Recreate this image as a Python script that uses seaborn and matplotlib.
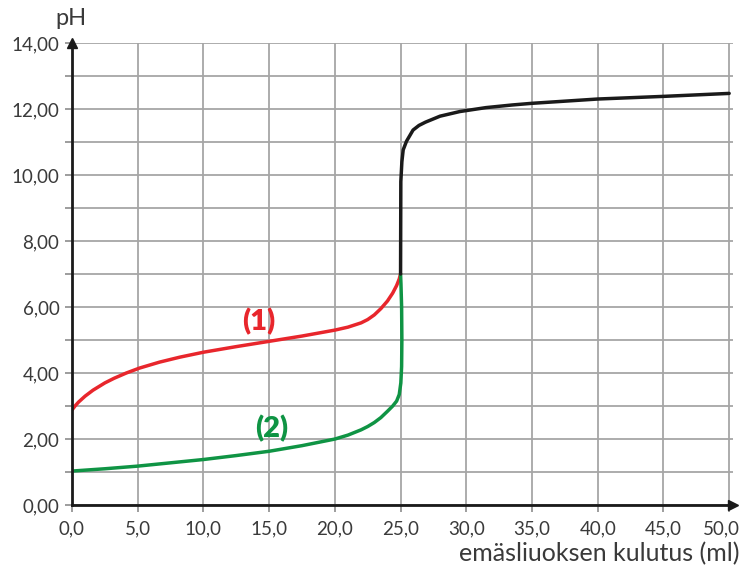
import matplotlib
matplotlib.use("Agg")
import matplotlib.pyplot as plt
import matplotlib.transforms as mtransforms
import numpy as np
import pandas as pd
import seaborn as sns

# values
red_x = [0, 0.23, 0.5, 1, 1.6, 2.5, 3.2, 4.13, 5.14, 6.66, 8.2, 10, 12.5, 15, 17.5, 20,
         21, 22, 22.5, 23, 23.5, 24, 24.4, 24.7, 24.9, 25.0]
red_y = [2.88, 3.0, 3.12, 3.3, 3.48, 3.7, 3.84, 4.0, 4.15, 4.33, 4.48, 4.63, 4.8, 4.96,
         5.12, 5.3, 5.39, 5.52, 5.62, 5.76, 5.95, 6.18, 6.42, 6.65, 6.85, 7.0]

green_x = [0, 2.5, 5, 7.5, 10, 12.5, 15, 17.5, 20, 21, 22, 22.5, 23, 23.5, 24, 24.4,
           24.7, 24.9, 25.02, 25.08, 25.1, 25.08, 25.03, 25.0]
green_y = [1.03, 1.1, 1.18, 1.28, 1.38, 1.5, 1.63, 1.8, 2.0, 2.12, 2.28, 2.38, 2.5, 2.65,
           2.84, 3.0, 3.15, 3.35, 3.7, 4.2, 5.0, 6.0, 6.7, 7.0]

black_x = [25.0, 25.02, 25.1, 25.2, 25.45, 25.95, 26.4, 26.9, 28, 29.5, 31.5, 33.5, 35,
           40, 45, 50]
black_y = [7.0, 9.8, 10.4, 10.76, 11.02, 11.36, 11.5, 11.6, 11.78, 11.92, 12.04, 12.12,
           12.17, 12.3, 12.38, 12.47]

x_ticks = [0, 5, 10, 15, 20, 25, 30, 35, 40, 45, 50]
y_ticks = [0, 2, 4, 6, 8, 10, 12, 14]

sns.set_style("white")
plt.rcParams['font.family'] = ['Lato', 'DejaVu Sans']

fig = plt.figure(figsize=(7.42, 5.72), dpi=100)
ax = fig.add_axes([0.097, 0.117, 0.891, 0.808])

curves = [(red_x, red_y, "#e8262c"), (green_x, green_y, "#0f9444"), (black_x, black_y, "#1a1a1a")]
for xs, ys, col in curves:
    df = pd.DataFrame({"x": xs, "y": ys})
    sns.lineplot(data=df, x="x", y="y", sort=False, estimator=None, color=col,
                 linewidth=2.5, ax=ax, zorder=3, solid_capstyle="round",
                 solid_joinstyle="round")

ax.set_xlim(0, 50.3)
ax.set_ylim(0, 14)
ax.set_xticks(x_ticks)
ax.set_xticklabels([f"{v:.1f}".replace(".", ",") for v in x_ticks])
ax.set_yticks(y_ticks)
ax.set_yticklabels([f"{v:.2f}".replace(".", ",") for v in y_ticks])
ax.set_yticks(np.arange(1, 14, 2), minor=True)

ax.grid(True, which="both", color="#a6a6a6", linewidth=1.3)
ax.set_axisbelow(True)

for s in ["top", "right"]:
    ax.spines[s].set_visible(False)
for s in ["left", "bottom"]:
    ax.spines[s].set_color("#1a1a1a")
    ax.spines[s].set_linewidth(2.0)
    ax.spines[s].set_zorder(4)

ax.tick_params(axis="both", which="both", direction="out", length=5, width=1.2,
               color="#8c8c8c", labelsize=13.5, labelcolor="#3a3a3a")
ax.tick_params(axis="y", which="both", left=True, pad=4)
ax.tick_params(axis="x", bottom=True, pad=6)

# last x label sits at the right edge, nudge it in so it stays visible
last = ax.get_xticklabels()[-1]
last.set_transform(last.get_transform() + mtransforms.ScaledTranslation(-8 / 100, 0, fig.dpi_scale_trans))

# arrow heads on axes
ax.plot(1, 0, ">", color="#1a1a1a", markersize=7, transform=ax.transAxes, clip_on=False, zorder=5)
ax.plot(0, 1, "^", color="#1a1a1a", markersize=7, transform=ax.transAxes, clip_on=False, zorder=5)

ax.set_xlabel("")
ax.set_ylabel("")
fig.text(0.997, 0.012, "emäsliuoksen kulutus (ml)", ha="right", va="bottom",
         fontsize=18, color="#3a3a3a")
fig.text(0.095, 0.967, "pH", ha="center", va="center", fontsize=17, color="#3a3a3a")

ax.text(14.2, 5.55, "(1)", color="#e8262c", fontsize=21, fontweight="heavy", ha="center", va="center")
ax.text(15.2, 2.33, "(2)", color="#0f9444", fontsize=21, fontweight="heavy", ha="center", va="center")

fig.savefig("out.png", dpi=100)
